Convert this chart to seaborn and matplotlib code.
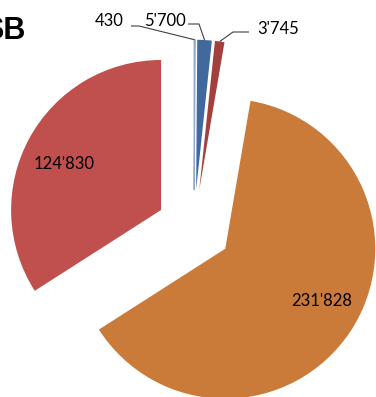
import numpy as np
import matplotlib
matplotlib.use("Agg")
import matplotlib.pyplot as plt
import seaborn as sns

# Values per segment, clockwise from 12 o'clock
segments = ["A", "B", "C", "D", "E"]
values = [430, 5700, 3745, 231828, 124830]
title = "SB"

colors = ["#D5E0EE", "#41699E", "#A3403D", "#CB7B39", "#C0504D"]
edges = ["#8FA9CC", "none", "none", "none", "none"]
explode = [0.255, 0.255, 0.255, 0.25, 0.25]

W, H = 376, 397

sns.set_theme(style="white")
plt.rcParams["font.family"] = ["Lato", "DejaVu Sans"]

fig = plt.figure(figsize=(W / 100, H / 100), dpi=100)
ax = fig.add_axes([0, 0, 1, 1])


def px(x, y):
    return x, H - y


def fmt(v):
    return f"{v:,}".replace(",", "'")


center = px(194, 228)
radius = 150

# matplotlib's explode offset is in data units, so scale it by the radius
wedges, _ = ax.pie(
    values,
    colors=colors,
    explode=[e * radius for e in explode],
    startangle=90,
    counterclock=False,
    center=center,
    radius=radius,
    frame=True,
    wedgeprops=dict(linewidth=0.8),
)
for w, ec in zip(wedges, edges):
    w.set_edgecolor(ec)
    if ec == "none":
        w.set_linewidth(0)
ax.set_xlim(0, W)
ax.set_ylim(0, H)
ax.set_aspect("equal")
ax.axis("off")


def outer_mid(w):
    a = np.deg2rad((w.theta1 + w.theta2) / 2)
    cx, cy = w.center
    return cx + w.r * np.cos(a), cy + w.r * np.sin(a)


# Inside labels for the two large segments
ax.text(*px(322, 301), fmt(values[3]), ha="center", va="center", fontsize=12, color="black")
ax.text(*px(64, 164), fmt(values[4]), ha="center", va="center", fontsize=12, color="black")

# Outside labels with elbow leader lines for the thin segments
label_pos = {0: (109, 21), 1: (165, 21), 2: (278, 29)}
elbows = {0: [(131, 26), (139, 26)], 1: [(188, 24), (199, 24)], 2: [(249, 32), (233, 32)]}
for i, (x, y) in label_pos.items():
    ax.text(*px(x, y), fmt(values[i]), ha="center", va="center", fontsize=12, color="black")
    tip = outer_mid(wedges[i])
    pts = [px(*p) for p in elbows[i]] + [tip]
    xs, ys = zip(*pts)
    ax.plot(xs, ys, color="#404040", linewidth=0.8, solid_capstyle="butt")

ax.text(*px(25, 31), title, ha="right", va="center", fontsize=22, fontweight="bold",
        family=["Liberation Sans", "DejaVu Sans"], color="black")

fig.savefig("out.png", dpi=100)
